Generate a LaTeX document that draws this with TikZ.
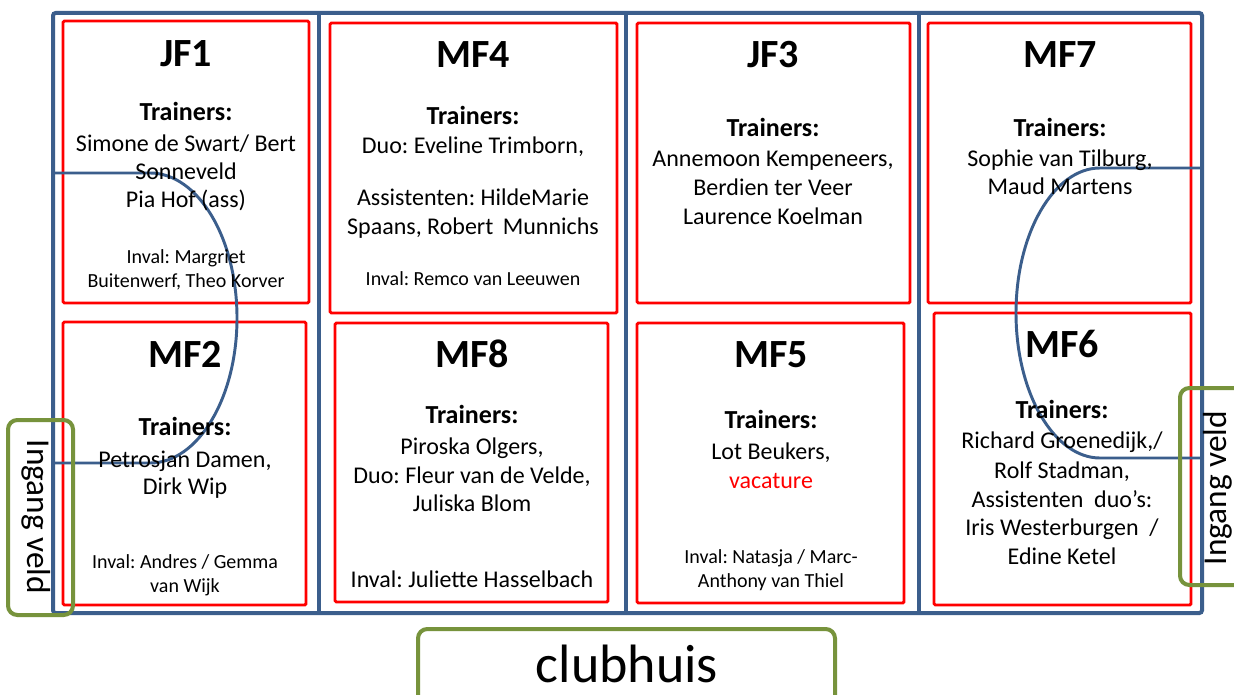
\documentclass[tikz,border=0pt]{standalone}
\usepackage{fontspec}
\setmainfont{Carlito}
\frenchspacing
\definecolor{fblue}{HTML}{3B5E8C}
\definecolor{fgreen}{RGB}{119,147,60}
\definecolor{fred}{RGB}{255,0,0}
\tikzset{
  frame/.style={draw=fblue,line width=3pt,rounded corners=2pt},
  divider/.style={draw=fblue,line width=3pt},
  curve/.style={draw=fblue,line width=2.2pt},
  redbox/.style={draw=fred,line width=2.2pt,rounded corners=1pt},
  greenbox/.style={draw=fgreen,line width=3pt,rounded corners=7pt},
  txt/.style={anchor=base,inner sep=0pt,text=black},
  ttl/.style={txt,font=\fontsize{30}{36}\selectfont\bfseries},
  trn/.style={txt,font=\fontsize{19.5}{23}\selectfont\bfseries},
  nm/.style={txt,font=\fontsize{18}{21.6}\selectfont},
  inv/.style={txt,font=\fontsize{15}{18}\selectfont},
}
\begin{document}
\begin{tikzpicture}[x=0.75pt,y=-0.75pt]
\useasboundingbox (0,0) rectangle (1234,695);
\fill[white] (0,0) rectangle (1234,695);
\clip (0,0) rectangle (1234,695);
% field frame
\draw[frame] (53,13) rectangle (1202,613);
\draw[divider] (319,13) -- (319,613);
\draw[divider] (626,13) -- (626,613);
\draw[divider] (919,13) -- (919,613);
% red boxes
\draw[redbox] (63,21) rectangle (309,303);
\draw[redbox] (63,322) rectangle (306,605);
\draw[redbox] (330,23) rectangle (617,313);
\draw[redbox] (335,323) rectangle (608,602);
\draw[redbox] (637,23) rectangle (910,303);
\draw[redbox] (637,323) rectangle (904,603);
\draw[redbox] (928,23) rectangle (1191,303);
\draw[redbox] (934,313) rectangle (1191,605);
% curves
\coordinate (lA) at (53,173);
\coordinate (lB) at (53,463);
\coordinate (rA) at (1202,168);
\coordinate (rB) at (1202,458);
\draw[curve] (lA) -- (150,173) .. controls (198,173) and (237,238) .. (237,318)
   .. controls (237,398) and (198,463) .. (150,463) -- (lB);
\draw[curve] (rA) -- (1100,168) .. controls (1054,168) and (1016,233) .. (1016,313)
   .. controls (1016,393) and (1054,458) .. (1100,458) -- (rB);
% JF1
\node[ttl] (jf1t) at (186,67) {JF1};
\node[trn] (jf1r) at (186,121) {Trainers:};
\node[nm] (jf1a) at (186,152) {Simone de Swart/ Bert};
\node[nm] (jf1b) at (186,180) {Sonneveld};
\node[nm] (jf1c) at (186,208) {Pia Hof (ass)};
\node[inv] (jf1d) at (186,263) {Inval: Margriet};
\node[inv] (jf1e) at (186,287) {Buitenwerf, Theo Korver};
% MF2
\node[ttl] (mf2t) at (185,367) {MF2};
\node[trn] (mf2r) at (185,435) {Trainers:};
\node[nm] (mf2a) at (185,467) {Petrosjan Damen,};
\node[nm] (mf2b) at (185,494) {Dirk Wip};
\node[inv] (mf2c) at (185,568) {Inval: Andres / Gemma};
\node[inv] (mf2d) at (185,592) {van Wijk};
% MF4
\node[ttl] (mf4t) at (473,68) {MF4};
\node[trn] (mf4r) at (473,125) {Trainers:};
\node[nm] (mf4a) at (473,154) {Duo: Eveline Trimborn,};
\node[nm] (mf4b) at (473,206) {Assistenten: HildeMarie};
\node[nm] (mf4c) at (473,234) {Spaans, Robert\ \,Munnichs};
\node[inv] (mf4d) at (473,285) {Inval: Remco van Leeuwen};
% MF8
\node[ttl] (mf8t) at (472,367) {MF8};
\node[trn] (mf8r) at (472,423) {Trainers:};
\node[nm] (mf8a) at (472,454) {Piroska Olgers,};
\node[nm] (mf8b) at (472,483) {Duo: Fleur van de Velde,};
\node[nm] (mf8c) at (472,511) {Juliska Blom};
\node[nm] (mf8d) at (472,587) {Inval: Juliette Hasselbach};
% JF3
\node[ttl] (jf3t) at (773,68) {JF3};
\node[trn] (jf3r) at (773,137) {Trainers:};
\node[nm] (jf3a) at (773,167) {Annemoon Kempeneers,};
\node[nm] (jf3b) at (773,196) {Berdien ter Veer};
\node[nm] (jf3c) at (773,225) {Laurence Koelman};
% MF5
\node[ttl] (mf5t) at (771,367) {MF5};
\node[trn] (mf5r) at (771,428) {Trainers:};
\node[nm] (mf5a) at (771,459) {Lot Beukers,};
\node[nm,text=fred] (mf5b) at (771,488) {vacature};
\node[inv] (mf5c) at (771,563) {Inval: Natasja / Marc-};
\node[inv] (mf5d) at (771,587) {Anthony van Thiel};
% MF7
\node[ttl] (mf7t) at (1060,68) {MF7};
\node[trn] (mf7r) at (1060,137) {Trainers:};
\node[nm] (mf7a) at (1060,167) {Sophie van Tilburg,};
\node[nm] (mf7b) at (1060,195) {Maud Martens};
% MF6
\node[ttl] (mf6t) at (1062,357) {MF6};
\node[trn] (mf6r) at (1062,418) {Trainers:};
\node[nm] (mf6a) at (1062,448) {Richard Groenedijk,/};
\node[nm] (mf6b) at (1062,478) {Rolf Stadman,};
\node[nm] (mf6c) at (1062,507) {Assistenten\ \ duo’s:};
\node[nm] (mf6d) at (1062,535) {Iris Westerburgen\ \ /};
\node[nm] (mf6e) at (1062,564) {Edine Ketel};
% entrances and clubhouse
\draw[greenbox] (8,420) rectangle (73,615);
\node[txt,rotate=-90,font=\fontsize{25}{30}\selectfont] (inL) at (27,517) {Ingang veld};
\draw[greenbox] (1180,388) rectangle (1250,585);
\node[txt,rotate=90,font=\fontsize{25}{30}\selectfont] (inR) at (1226,488) {Ingang veld};
\draw[greenbox] (418,629) rectangle (835,720);
\node[txt,font=\fontsize{40.5}{48}\selectfont] (club) at (627,682) {clubhuis};
\end{tikzpicture}
\end{document}
